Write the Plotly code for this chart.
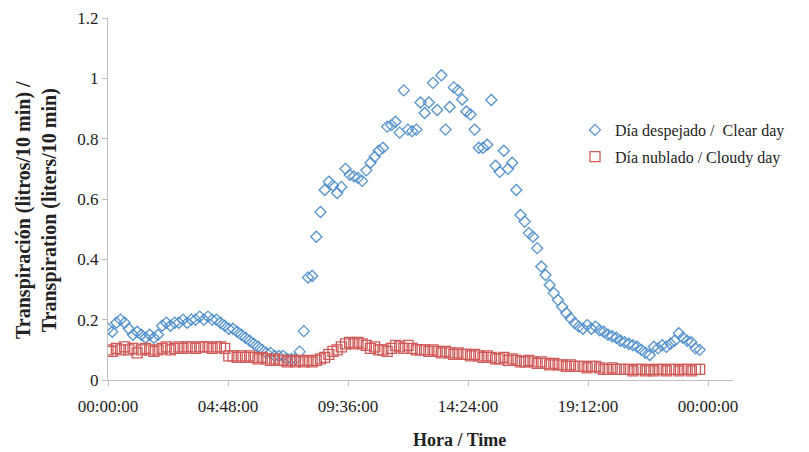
import plotly.graph_objects as go

# 10-minute readings (index i -> hour i/6)
clear_day = [
    0.17, 0.16, 0.19, 0.20, 0.19, 0.17,
    0.15, 0.16, 0.15, 0.14, 0.15, 0.14,
    0.15, 0.18, 0.19, 0.18, 0.19, 0.19,
    0.20, 0.19, 0.20, 0.20, 0.21, 0.20,
    0.21, 0.20, 0.20, 0.19, 0.18, 0.17,
    0.17, 0.16, 0.15, 0.14, 0.13, 0.12,
    0.11, 0.10, 0.09, 0.09, 0.08, 0.08,
    0.08, 0.07, 0.07, 0.07,
    0.094, 0.162, 0.34, 0.345, 0.475, 0.557, 0.63, 0.657, 0.645, 0.62,
    0.64, 0.70, 0.68, 0.675, 0.67, 0.66, 0.695, 0.72, 0.74, 0.76,
    0.77, 0.84, 0.845, 0.856, 0.82, 0.96, 0.83, 0.825, 0.83, 0.92,
    0.885, 0.92, 0.985, 0.895, 1.01, 0.83, 0.905, 0.97, 0.96, 0.93,
    0.89, 0.88, 0.83, 0.77, 0.77, 0.78, 0.928, 0.71, 0.69, 0.76,
    0.70, 0.72, 0.63, 0.547, 0.525, 0.487, 0.475, 0.437, 0.376, 0.348,
    0.315, 0.288, 0.265, 0.243, 0.222, 0.205, 0.189, 0.177, 0.17, 0.182,
    0.17, 0.177, 0.165, 0.16, 0.15, 0.145, 0.14, 0.13, 0.125, 0.12,
    0.115, 0.11, 0.10, 0.09, 0.083, 0.11, 0.105, 0.115, 0.11, 0.12,
    0.13, 0.155, 0.14, 0.13, 0.125, 0.105, 0.10,
]

cloudy_day = [
    0.10, 0.095, 0.105, 0.10, 0.11, 0.10,
    0.105, 0.09, 0.10, 0.105, 0.10, 0.095,
    0.10, 0.105, 0.11, 0.10, 0.105, 0.11,
    0.105, 0.11, 0.11, 0.105, 0.11, 0.11,
    0.11, 0.105, 0.11, 0.11, 0.105, 0.08,
    0.08, 0.075, 0.08, 0.075, 0.08, 0.075,
    0.07, 0.075, 0.07, 0.065, 0.07, 0.065,
    0.065, 0.06, 0.065, 0.06, 0.065, 0.06,
    0.065, 0.06, 0.065, 0.07, 0.075, 0.085,
    0.095, 0.10, 0.11, 0.12, 0.125, 0.12, 0.125, 0.12, 0.115, 0.105,
    0.11, 0.10, 0.10, 0.095, 0.105, 0.115, 0.11, 0.105, 0.115, 0.105,
    0.10, 0.10,
    0.10, 0.095, 0.10, 0.095, 0.09, 0.095,
    0.09, 0.085, 0.09, 0.085, 0.085, 0.08,
    0.085, 0.08, 0.075, 0.08, 0.075, 0.07,
    0.07, 0.075, 0.065, 0.07, 0.065, 0.06,
    0.06, 0.065, 0.06, 0.055, 0.06, 0.055,
    0.05, 0.055, 0.05, 0.05, 0.045, 0.05,
    0.045, 0.045, 0.045, 0.04, 0.045, 0.045,
    0.04, 0.035, 0.035, 0.04, 0.035, 0.035,
    0.035, 0.035, 0.03, 0.035, 0.035, 0.03,
    0.035, 0.03, 0.035, 0.035, 0.03, 0.035,
    0.035, 0.03, 0.035, 0.035, 0.03, 0.035, 0.035,
]

hours_clear = [i / 6 for i in range(len(clear_day))]
hours_cloudy = [i / 6 for i in range(len(cloudy_day))]

tick_hours = [0, 4.8, 9.6, 14.4, 19.2, 24]
tick_labels = ["00:00:00", "04:48:00", "09:36:00", "14:24:00", "19:12:00", "00:00:00"]

font_family = "Liberation Serif, DejaVu Serif, serif"
blue = "#5593CF"
red = "#D05A58"

fig = go.Figure()
fig.add_trace(go.Scatter(
    x=hours_clear, y=clear_day, mode="markers",
    name="Día despejado /  Clear day", legendgroup="clear",
    marker=dict(symbol="diamond-open", size=8.5, color=blue,
                line=dict(width=1.3, color=blue)),
))
fig.add_trace(go.Scatter(
    x=hours_cloudy, y=cloudy_day, mode="markers",
    name="Día nublado / Cloudy day", legendgroup="cloudy",
    marker=dict(symbol="square-open", size=10, color=red,
                line=dict(width=1.3, color=red)),
))

# page body adds an 8px margin; size and margins compensate for it
W, H = 801, 444
L, T, R, B = 100, 10, 76, 72
PW = W - L - R
PH = H - T - B

fig.update_layout(
    width=W, height=H,
    margin=dict(l=L, r=R, t=T, b=B),
    paper_bgcolor="white", plot_bgcolor="white",
    font=dict(family=font_family, size=17, color="#222222"),
    showlegend=True,
    legend=dict(x=(567 - L) / PW, y=(372 - 105) / PH, xanchor="left", yanchor="top",
                bgcolor="rgba(0,0,0,0)", font=dict(size=16, color="#222222"),
                tracegroupgap=3),
    xaxis=dict(range=[0, 25], tickmode="array", tickvals=tick_hours, ticktext=tick_labels,
               showgrid=False, zeroline=False, showline=True, linecolor="#BFBFBF",
               linewidth=1, ticks="outside", ticklen=5, tickcolor="#BFBFBF",
               tickfont=dict(size=17), automargin=False, ticklabelstandoff=6),
    yaxis=dict(range=[0, 1.2], tickmode="array", tickvals=[0, 0.2, 0.4, 0.6, 0.8, 1.0, 1.2],
               ticktext=["0", "0.2", "0.4", "0.6", "0.8", "1", "1.2"],
               showgrid=False, zeroline=False, showline=True, linecolor="#BFBFBF",
               linewidth=1, ticks="outside", ticklen=5, tickcolor="#BFBFBF",
               tickfont=dict(size=17), automargin=False),
    annotations=[
        dict(text="<b>Hora / Time</b>", xref="paper", yref="paper",
             x=(451 - L) / PW, y=-(432 - 372) / PH, xanchor="center", yanchor="middle",
             showarrow=False, font=dict(size=18)),
        dict(text="<b>Transpiración (litros/10 min) /<br>Transpiration (liters/10 min)</b>",
             xref="paper", yref="paper", x=(28 - L) / PW, y=(372 - 202) / PH,
             xanchor="center", yanchor="middle", textangle=-90, showarrow=False,
             font=dict(size=20)),
    ],
)

fig.write_html("out.html")
